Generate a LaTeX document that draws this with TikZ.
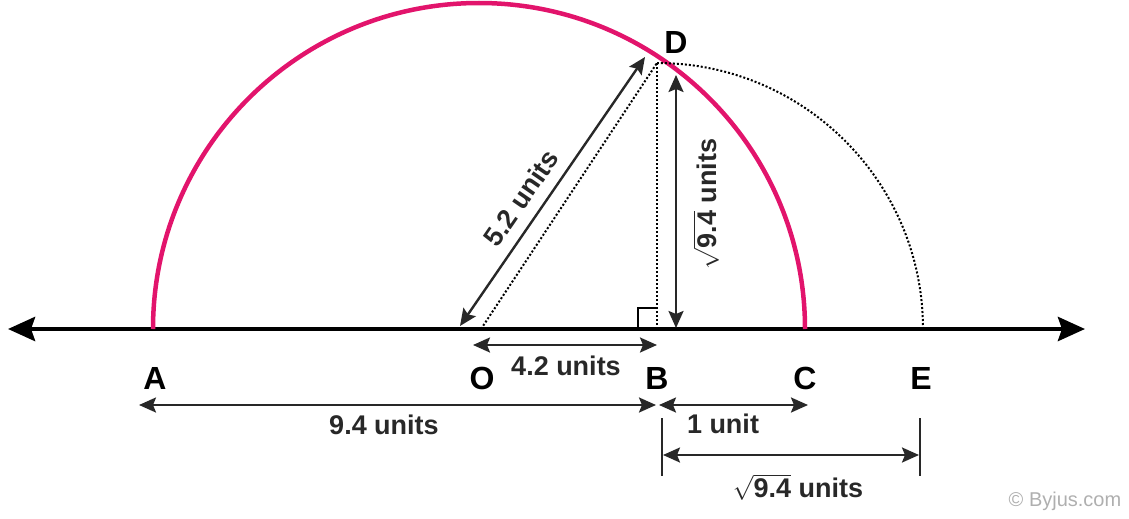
\documentclass[tikz,border=0pt]{standalone}
\usepackage{fontspec}
\setmainfont{Liberation Sans}
\usetikzlibrary{arrows.meta}
\definecolor{arcpink}{RGB}{226,20,108}
\definecolor{dimgray}{RGB}{40,40,40}
\definecolor{wmgray}{RGB}{175,175,175}
\begin{document}
\begin{tikzpicture}[x=1pt,y=-1pt,
  ptlabel/.style={font=\bfseries\fontsize{32}{32}\selectfont, inner sep=0pt},
  dimlabel/.style={font=\bfseries\fontsize{27}{27}\selectfont, inner sep=0pt, text=dimgray},
  dimarrow/.style={draw=dimgray, line width=2.4pt,
    {Stealth[length=17pt,width=15pt,inset=3pt]}-{Stealth[length=17pt,width=15pt,inset=3pt]}},
  dotline/.style={line width=2pt, dash pattern=on 2pt off 2pt},
  numline/.style={line width=4.5pt,
    {Stealth[length=27pt,width=24pt,inset=4pt]}-{Stealth[length=27pt,width=24pt,inset=4pt]}},
  tickline/.style={draw=dimgray, line width=2.4pt}
]
\useasboundingbox (0,0) rectangle (1129,519);
% points
\coordinate (L) at (8,329);
\coordinate (R) at (1085,329);
\coordinate (A) at (153,329);
\coordinate (O) at (481,329);
\coordinate (B) at (657,329);
\coordinate (C) at (805,329);
\coordinate (E) at (923,329);
\coordinate (D) at (657,63);
% number line
\draw[numline] (L) -- (R);
% semicircle
\draw[arcpink, line width=4.5pt] (A) arc[start angle=180, end angle=360, radius=326];
% dotted quarter arc
\draw[dotline] (E) arc[start angle=0, end angle=-90, radius=266];
% dotted lines
\draw[dotline] (O) -- (D);
\draw[dotline] (B) -- (D);
% right angle
\coordinate (q1) at (638,329);
\coordinate (q2) at (638,308);
\coordinate (q3) at (657,308);
\draw[line width=1.8pt] (q1) -- (q2) -- (q3);
% 5.2 units arrow
\coordinate (r1) at (460,326);
\coordinate (r2) at (645,57);
\draw[dimarrow] (r1) -- (r2);
\node[dimlabel, rotate=55.4] (l52) at (521,198) {5.2 units};
% sqrt 9.4 vertical arrow
\coordinate (v1) at (676,75);
\coordinate (v2) at (676,328);
\draw[dimarrow] (v1) -- (v2);
\node[dimlabel, rotate=90] (lv) at (706,204) {$\sqrt{\mbox{9.4}}$ units};
% O-B
\coordinate (ob1) at (473,345);
\coordinate (ob2) at (657,345);
\draw[dimarrow] (ob1) -- (ob2);
% A-B
\coordinate (ab1) at (139,405);
\coordinate (ab2) at (656,405);
\draw[dimarrow] (ab1) -- (ab2);
% B-C
\coordinate (bc1) at (659,405);
\coordinate (bc2) at (808,405);
\draw[dimarrow] (bc1) -- (bc2);
% B-E with ticks
\coordinate (t1a) at (662,418);
\coordinate (t1b) at (662,476);
\coordinate (t2a) at (920,418);
\coordinate (t2b) at (920,476);
\draw[tickline] (t1a) -- (t1b);
\draw[tickline] (t2a) -- (t2b);
\coordinate (be1) at (663,455);
\coordinate (be2) at (919,455);
\draw[dimarrow] (be1) -- (be2);
% labels
\node[ptlabel] (lA) at (155,378) {A};
\node[ptlabel] (lO) at (482,378) {O};
\node[ptlabel] (lB) at (657,378) {B};
\node[ptlabel] (lC) at (805,378) {C};
\node[ptlabel] (lE) at (921,378) {E};
\node[ptlabel] (lD) at (676,42) {D};
\node[dimlabel] (l42) at (566,366) {4.2 units};
\node[dimlabel] (l94) at (384,425) {9.4 units};
\node[dimlabel] (l1) at (723,424) {1 unit};
\node[dimlabel] (ls94) at (798,487) {$\sqrt{\mbox{9.4}}$ units};
\node[font=\fontsize{20}{20}\selectfont, text=wmgray, inner sep=0pt] (wm) at (1065,501) {© Byjus.com};
\end{tikzpicture}
\end{document}
